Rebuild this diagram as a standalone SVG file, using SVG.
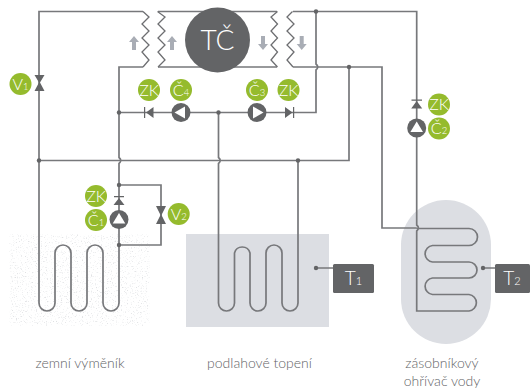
<svg xmlns="http://www.w3.org/2000/svg" width="530" height="390" viewBox="0 0 530 390">
<defs>
<filter id="stipple" x="0" y="0" width="100%" height="100%">
<feTurbulence type="fractalNoise" baseFrequency="0.8" numOctaves="2" seed="7" result="n"/>
<feColorMatrix in="n" type="matrix" values="0 0 0 0 0.74  0 0 0 0 0.75  0 0 0 0 0.77  0 0 0 4 -2.35"/>
</filter>
<filter id="soft" x="-10%" y="-10%" width="120%" height="120%"><feGaussianBlur stdDeviation="2"/></filter>
<g id="arrowUp"><path d="M0 -7 L5 -1 L2 -1 L2 7 L-2 7 L-2 -1 L-5 -1 Z"/></g>
</defs>
<style>
.w{fill:none;stroke:#77787b;stroke-width:1.7}
.z{fill:none;stroke:#6d6e71;stroke-width:1.3}
.d{fill:#636466}
.a{fill:#a9adb5}
.g{fill:#95bb2d}
.t{font-family:"Lato","Open Sans",sans-serif;fill:#fff;text-anchor:middle;font-weight:300}
.c{font-family:"Lato","Open Sans",sans-serif;fill:#626366;text-anchor:middle;font-size:14px;font-weight:300}
.b{font-size:16px}
.s{font-size:9.5px}
</style>
<rect width="530" height="390" fill="#fff"/>
<rect id="ground" x="9" y="234" width="141" height="92" filter="url(#stipple)"/>
<rect id="ground-edge" x="6" y="231" width="147" height="98" fill="none" stroke="#fff" stroke-width="5" filter="url(#soft)"/>
<rect id="floor" x="186" y="234" width="143" height="93" fill="#dcdee3"/>
<rect id="tank" x="401" y="200" width="90" height="144" rx="45" ry="45" fill="#dcdee3"/>
<g id="connectors">
<path class="w" d="M143 11.5 H39 V303 a8 8 0 0 0 16 0 V253 a8 8 0 0 1 16 0 V303 a8 8 0 0 0 16 0 V253 a8 8 0 0 1 16 0 V303 a8 8 0 0 0 16 0 V163.5 q3.5 -3 0 -6 V67 H143"/>
<path class="w" d="M39 160.5 H349 V67 M119 112.5 H316 V70 q3.5 -3 0 -6 V11.5"/>
<path class="w" d="M218.5 112.5 V157.5 q3.5 3 0 6 V303 a8 8 0 0 0 16 0 V253 a8 8 0 0 1 15.5 0 V303 a8 8 0 0 0 16 0 V253 a8 8 0 0 1 16 0 V303 a8 8 0 0 0 16 0 V160.5"/>
<path class="w" d="M119 185 H161 V245 H119"/>
<path class="w" d="M158 11.5 H277 M158 67 H277"/>
<path class="w" d="M293 67 H382 V228 H416.7 M293 11.5 H416.7 V225 q3.5 3 0 6 V311 H469 a8.3 8.3 0 0 0 0 -16.5 H432.5 a8.3 8.3 0 0 1 0 -16.5 H469 a8 8 0 0 0 0 -16 H432.5 a8.3 8.3 0 0 1 0 -16.5 H469 a8.4 8.4 0 0 0 0 -17 H416.7"/>
<path class="w" d="M316 268 H333 M483 268 H495"/>
<path class="z" d="M143 11.5 L149 17 L142 24 L149 31 L142 38 L149 45 L142 52 L149 60 L143 67"/>
<path class="z" d="M157.5 11.5 L165 17 L158 24 L165 31 L158 38 L165 45 L158 52 L165 60 L158 67"/>
<path class="z" d="M277.5 11.5 L271 17 L277.5 24 L271 31 L277.5 38 L271 45 L277.5 52 L271 60 L277.5 67"/>
<path class="z" d="M292.5 11.5 L287 17 L294 24 L287 31 L294 38 L287 45 L294 52 L287 60 L293 67"/>
</g>
<g id="dots" class="d">
<circle cx="119" cy="112.5" r="2.2"/><circle cx="218.5" cy="112.5" r="2.2"/><circle cx="39" cy="160.5" r="2.2"/><circle cx="298" cy="160.5" r="2.2"/><circle cx="349" cy="67" r="2.2"/><circle cx="316" cy="11.5" r="2.2"/><circle cx="119" cy="185" r="2.2"/><circle cx="119" cy="245" r="2.2"/><circle cx="316" cy="268" r="2.2"/><circle cx="483" cy="268" r="2.2"/>
</g>
<g id="arrows" class="a">
<use href="#arrowUp" transform="translate(134 43)"/>
<use href="#arrowUp" transform="translate(172 43)"/>
<use href="#arrowUp" transform="translate(263 43) rotate(180)"/>
<use href="#arrowUp" transform="translate(301.7 43) rotate(180)"/>
</g>
<g id="tc"><circle class="d" cx="217.5" cy="40" r="32.5"/><text class="t" x="217.5" y="50" font-size="28">TČ</text></g>
<g id="v1"><path class="d" d="M34.5 75 H44.5 L40 82.5 L44.5 91 H34.5 L39 82.5 Z"/><circle class="g" cx="20.5" cy="84" r="11"/><text class="t b" x="20.5" y="89.5">V<tspan class="s">1</tspan></text></g>
<g id="v2"><path class="d" d="M156 206 H166 L161.5 215 L166 224 H156 L160.5 215 Z"/><circle class="g" cx="178.7" cy="214" r="11"/><text class="t b" x="178.7" y="219.5">V<tspan class="s">2</tspan></text></g>
<g id="zk4"><path class="d" d="M153.5 107 V118 L146 112.5 Z M144 107 H145.2 V118 H144 Z"/><circle class="g" cx="149" cy="90" r="11"/><text class="t b" x="149" y="95.5">ZK</text></g>
<g id="c4"><circle class="d" cx="181" cy="112.5" r="9.5"/><path fill="#fff" d="M174.5 112.5 L185 106.5 V118.5 Z"/><circle class="g" cx="181" cy="90" r="11"/><text class="t b" x="181" y="95.5">Č<tspan class="s">4</tspan></text></g>
<g id="c3"><circle class="d" cx="257" cy="112.5" r="9.5"/><path fill="#fff" d="M263.5 112.5 L253 106.5 V118.5 Z"/><circle class="g" cx="257" cy="90" r="11"/><text class="t b" x="257" y="95.5">Č<tspan class="s">3</tspan></text></g>
<g id="zk3"><path class="d" d="M285 107 V118 L292.5 112.5 Z M293 107 H294.2 V118 H293 Z"/><circle class="g" cx="288.5" cy="90" r="11"/><text class="t b" x="288.5" y="95.5">ZK</text></g>
<g id="zk2"><path class="d" d="M411.2 108.5 H422.2 L416.7 101 Z M411.5 99.5 H422 V100.7 H411.5 Z"/><circle class="g" cx="439" cy="104.5" r="11"/><text class="t b" x="439" y="110">ZK</text></g>
<g id="c2"><circle class="d" cx="416.7" cy="128" r="9.5"/><path fill="#fff" d="M416.7 121.5 L423 132 H410.4 Z"/><circle class="g" cx="439" cy="128.5" r="11"/><text class="t b" x="439" y="134">Č<tspan class="s">2</tspan></text></g>
<g id="zk1"><path class="d" d="M113.5 205 H124.5 L119 198 Z M114 196 H124 V197.2 H114 Z"/><circle class="g" cx="96" cy="196" r="11"/><text class="t b" x="96" y="201.5">ZK</text></g>
<g id="c1"><circle class="d" cx="119" cy="219.5" r="9.5"/><path fill="#fff" d="M119 213 L125.3 223.5 H112.7 Z"/><circle class="g" cx="96" cy="220" r="11"/><text class="t b" x="96" y="225.5">Č<tspan class="s">1</tspan></text></g>
<g id="t1"><rect class="d" x="333" y="264" width="41" height="29" rx="1.5"/><text class="t" x="353.5" y="285" font-size="19">T<tspan font-size="11">1</tspan></text></g>
<g id="t2"><rect class="d" x="495" y="264" width="35" height="29" rx="1.5"/><text class="t" x="512" y="285" font-size="19">T<tspan font-size="11">2</tspan></text></g>
<text class="c" x="80" y="368">zemní výměník</text>
<text class="c" x="259.5" y="368">podlahové topení</text>
<text class="c" x="442" y="368">zásobníkový</text>
<text class="c" x="442" y="386">ohřívač vody</text>
</svg>
